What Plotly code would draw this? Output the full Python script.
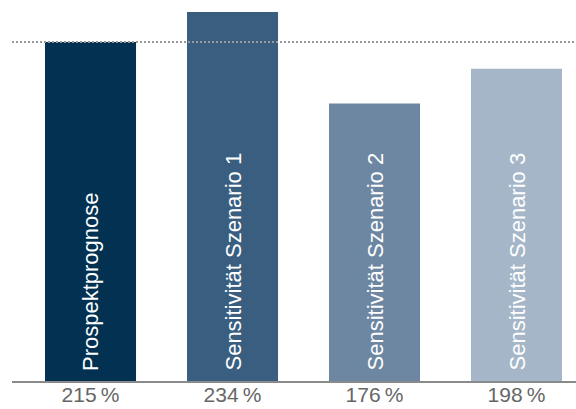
import plotly.graph_objects as go

categories = ["Prospektprognose", "Sensitivität Szenario 1", "Sensitivität Szenario 2", "Sensitivität Szenario 3"]
values = [215, 234, 176, 198]
tick_labels = ["215\u2009%", "234\u2009%", "176\u2009%", "198\u2009%"]
colors = ["#023152", "#3a5e80", "#6d87a2", "#a5b6c8"]
reference_value = 215

x_idx = list(range(len(categories)))

fig = go.Figure()
fig.add_trace(go.Bar(
    x=x_idx, y=values, marker=dict(color=colors, line=dict(width=0)),
    hoverinfo="skip", showlegend=False,
))

for i, name in zip(x_idx, categories):
    fig.add_annotation(
        x=i, y=0, xref="x", yref="y", text=name, textangle=-90,
        showarrow=False, xanchor="center", yanchor="bottom", yshift=8,
        font=dict(family="Liberation Sans, Arial, sans-serif", size=22, color="white"),
    )

fig.add_shape(type="line", xref="paper", yref="y", x0=0, x1=1,
              y0=reference_value, y1=reference_value,
              line=dict(color="#9a9a9a", width=2, dash="2px,2px"))

fig.update_layout(
    width=576, height=409,
    margin=dict(l=12, r=0, t=0, b=28),
    plot_bgcolor="white", paper_bgcolor="white",
    bargap=0.359,
    xaxis=dict(range=[-0.553, 3.419], tickvals=x_idx, ticktext=tick_labels,
               showgrid=False, zeroline=False, showline=True, linecolor="#8a8a8a",
               linewidth=2, ticks="", fixedrange=True, ticklabelstandoff=-6,
               tickfont=dict(family="Liberation Sans, Arial, sans-serif", size=21, color="#666666")),
    yaxis=dict(range=[0, 241.6], visible=False, showgrid=False, zeroline=False),
)

fig.write_html("out.html")
